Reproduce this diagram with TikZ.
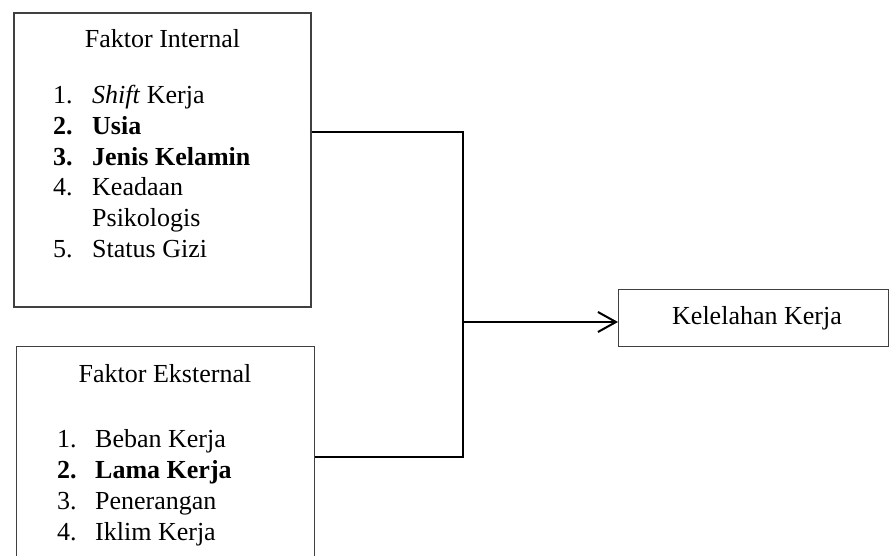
\documentclass[tikz,border=0pt]{standalone}
\usepackage{fontspec}
\setmainfont{Liberation Serif}
\usetikzlibrary{arrows.meta}
\begin{document}
\begin{tikzpicture}[x=1pt,y=-1pt,
  boxline/.style={draw=black!75,line width=1.4pt},
  conn/.style={draw=black,line width=2pt},
  txt/.style={inner sep=0pt,anchor=base west,font=\fontsize{26}{31}\selectfont},
  ttl/.style={inner sep=0pt,anchor=base,font=\fontsize{26}{31}\selectfont}]
\clip (0,0) rectangle (889,556);
\fill[white] (0,0) rectangle (889,556);
% boxes
\node[boxline,minimum width=297pt,minimum height=294pt,inner sep=0pt] (bi) at (162.5,160) {};
\node[boxline,minimum width=298pt,minimum height=260pt,inner sep=0pt,anchor=north west] (be) at (16,346) {};
\node[boxline,minimum width=270pt,minimum height=57pt,inner sep=0pt,anchor=north west] (bk) at (618,289) {};
% internal text
\node[ttl] (ti) at (162.5,48) {Faktor Internal};
\node[txt] (i1n) at (53,104) {1.};
\node[txt] (i1) at (92,104) {\textit{Shift} Kerja};
\node[txt] (i2n) at (53,135) {\textbf{2.}};
\node[txt] (i2) at (92,135) {\textbf{Usia}};
\node[txt] (i3n) at (53,166) {\textbf{3.}};
\node[txt] (i3) at (92,166) {\textbf{Jenis Kelamin}};
\node[txt] (i4n) at (53,196) {4.};
\node[txt] (i4) at (92,196) {Keadaan};
\node[txt] (i4b) at (92,227) {Psikologis};
\node[txt] (i5n) at (53,258) {5.};
\node[txt] (i5) at (92,258) {Status Gizi};
% external text
\node[ttl] (te) at (165,382) {Faktor Eksternal};
\node[txt] (e1n) at (57,447) {1.};
\node[txt] (e1) at (95,447) {Beban Kerja};
\node[txt] (e2n) at (57,478) {\textbf{2.}};
\node[txt] (e2) at (95,478) {\textbf{Lama Kerja}};
\node[txt] (e3n) at (57,509) {3.};
\node[txt] (e3) at (95,509) {Penerangan};
\node[txt] (e4n) at (57,540) {4.};
\node[txt] (e4) at (95,540) {Iklim Kerja};
% result text
\node[ttl] (tk) at (757,324) {Kelelahan Kerja};
% connectors
\coordinate (ja) at (463,132);
\coordinate (jm) at (463,322);
\coordinate (jb) at (463,457);
\draw[conn] (bi.east |- ja) -- (ja) -- (jb) -- (be.east |- jb);
\draw[conn,-{Straight Barb[length=18pt,width=20pt,line width=2pt]}] (jm) -- (bk.west |- jm);
\end{tikzpicture}
\end{document}
